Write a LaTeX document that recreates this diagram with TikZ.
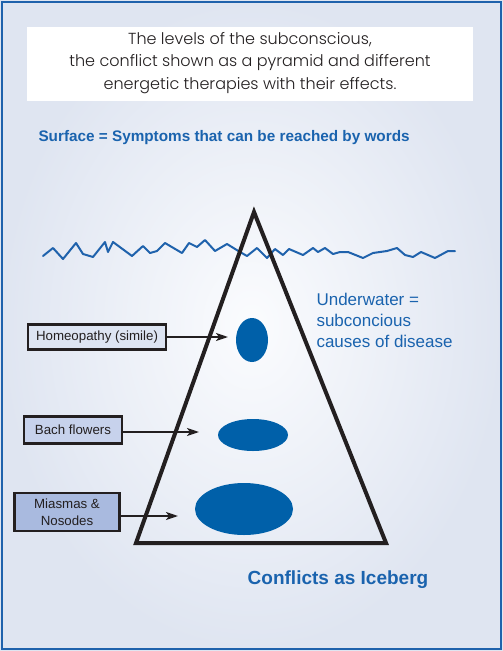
\documentclass[tikz,border=0pt]{standalone}
\usepackage{fontspec}
\setmainfont{Liberation Sans}
\newfontfamily\titlefont{Poppins Light}
\usetikzlibrary{arrows.meta,shapes.geometric}

\definecolor{frameblue}{HTML}{1F62AC}
\definecolor{textblue}{HTML}{1A63AE}
\definecolor{blobblue}{HTML}{0060A9}
\definecolor{inkdark}{HTML}{231F20}
\definecolor{bgout}{HTML}{DFE5F1}
\definecolor{bgin}{HTML}{FBFCFE}
\definecolor{boxa}{HTML}{DDE4F2}
\definecolor{boxb}{HTML}{C7D2EC}
\definecolor{boxc}{HTML}{A9BADF}

\tikzset{
    therapy/.style={draw=inkdark, line width=2.2pt, inner sep=0pt, align=center,
        font=\fontsize{13.3}{17}\selectfont, text=inkdark},
    blob/.style={ellipse, fill=blobblue, inner sep=0pt},
    pointer/.style={-{Stealth[length=12pt,width=8pt,inset=3pt]}, line width=2pt, draw=inkdark}
}

\begin{document}
\begin{tikzpicture}[x=1pt, y=-1pt]
    \useasboundingbox (0,0) rectangle (503,651);

    % 1. Hintergrund und Rahmen
    \shade[inner color=bgin, outer color=bgout] (0,0) rectangle (503,651);
    \draw[frameblue, line width=2.5pt] (2,2) rectangle (501,649);

    % 2. Titel
    \fill[white] (27,27) rectangle (473,101);
    \node[font=\titlefont\fontsize{16}{22.5}\selectfont, text=inkdark, align=center] (title) at (250,63)
        {The levels of the subconscious,\\the conflict shown as a pyramid and different\\energetic therapies with their effects.};

    \node[font=\bfseries\fontsize{15.3}{18}\selectfont, text=textblue, anchor=west] (surface) at (35,138)
        {Surface = Symptoms that can be reached by words};

    % 3. Wasserlinie
    \draw[frameblue, line width=2pt, line join=round, line cap=round] (43,256) -- (53,248) -- (63,259) -- (76,243) -- (83,254)
        -- (93,257) -- (105,242) -- (108,252) -- (113,242) -- (132,256) -- (143,246) -- (150,253) -- (157,251)
        -- (165,243) -- (182,253) -- (189,243) -- (197,247) -- (205,240) -- (215,251) -- (227,244) -- (240,252)
        -- (247,256) -- (257,248) -- (267,258) -- (275,249) -- (283,255) -- (289,249) -- (303,255) -- (313,248)
        -- (318,252) -- (325,248) -- (333,254) -- (340,252) -- (348,252) -- (363,258) -- (373,253) -- (387,251)
        -- (397,248) -- (405,255) -- (413,257) -- (421,252) -- (435,258) -- (448,251) -- (455,251);

    % 4. Pyramide
    \coordinate (apex) at (254,212);
    \coordinate (baseL) at (136,543);
    \coordinate (baseR) at (386,543);
    \draw[inkdark, line width=4pt, line join=miter] (apex) -- (baseR) -- (baseL) -- cycle;

    % 5. Ebenen im Unterbewusstsein
    \node[blob, minimum width=32pt, minimum height=44pt] (lvlA) at (252,340) {};
    \node[blob, minimum width=70pt, minimum height=32pt] (lvlB) at (253,435) {};
    \node[blob, minimum width=98pt, minimum height=52pt] (lvlC) at (244,509) {};

    % 6. Therapien
    \node[therapy, fill=boxa, minimum width=138pt, minimum height=25pt] (homeo) at (97,337) {Homeopathy (simile)};
    \node[therapy, fill=boxb, minimum width=98pt, minimum height=27pt] (bach) at (73,430) {Bach flowers};
    \node[therapy, fill=boxc, minimum width=105pt, minimum height=38pt] (miasma) at (67,512) {Miasmas \&\\Nosodes};

    \coordinate (tipA) at (228,337);
    \coordinate (tipB) at (199,432);
    \coordinate (tipC) at (178,516);
    \draw[pointer] (homeo.east) -- (tipA);
    \draw[pointer] (bach.east |- tipB) -- (tipB);
    \draw[pointer] (miasma.east |- tipC) -- (tipC);

    % 7. Beschriftung
    \node[font=\fontsize{17}{21}\selectfont, text=textblue, align=left, anchor=north west] (under) at (313,290)
        {Underwater =\\subconcious\\causes of disease};
    \node[font=\bfseries\fontsize{19}{22}\selectfont, text=textblue] (iceberg) at (338,580) {Conflicts as Iceberg};
\end{tikzpicture}
\end{document}
